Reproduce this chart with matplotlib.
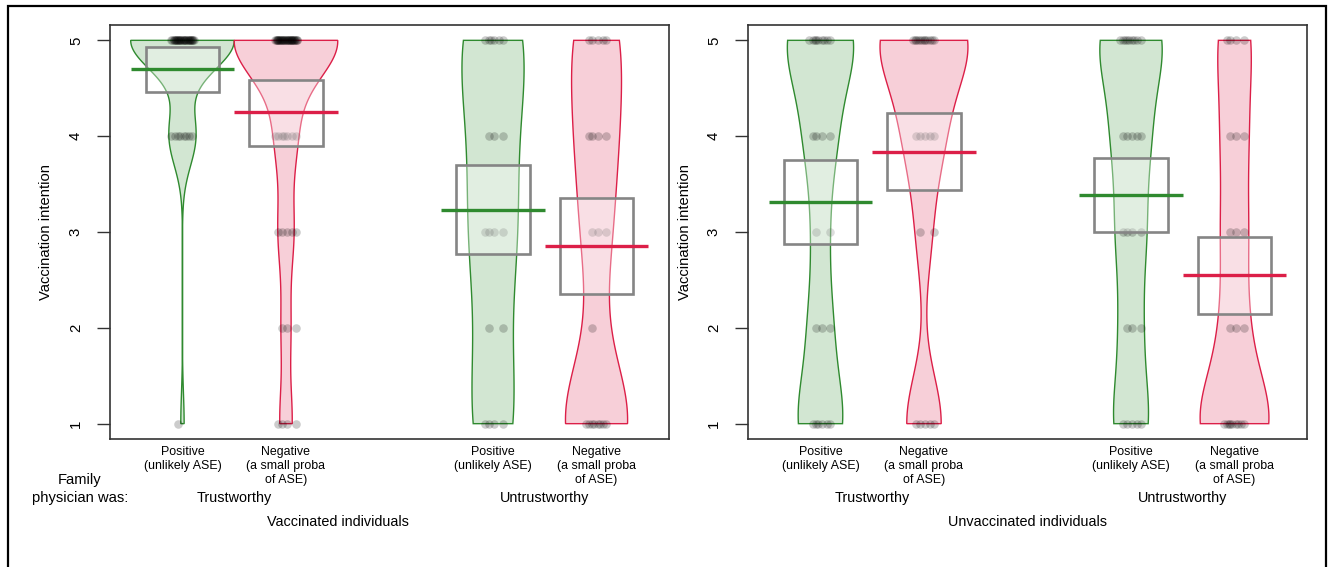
import matplotlib

matplotlib.use("Agg")
import matplotlib.pyplot as plt
import numpy as np
from matplotlib.patches import Rectangle
from matplotlib.transforms import blended_transform_factory

plt.rcParams["font.family"] = ["Liberation Sans", "DejaVu Sans"]

# ---------------------------------------------------------------------------
# Data
# ---------------------------------------------------------------------------
LEVELS = [1, 2, 3, 4, 5]
CONDITIONS = ["Positive\n(unlikely ASE)", "Negative\n(a small proba\nof ASE)"]
PHYSICIAN = ["Trustworthy", "Untrustworthy"]
PANELS = ["Vaccinated individuals", "Unvaccinated individuals"]

# counts of answers 1..5, order: trust+/trust-/untrust+/untrust-
vacc_counts = [[1, 0, 0, 8, 31], [4, 3, 5, 7, 34], [4, 2, 4, 3, 6], [8, 1, 3, 4, 5]]
unvacc_counts = [[6, 3, 2, 4, 9], [5, 0, 2, 5, 12], [5, 3, 4, 5, 9], [9, 3, 3, 3, 4]]

vacc_means = [4.70, 4.25, 3.23, 2.85]
vacc_lo = [4.46, 3.90, 2.77, 2.35]
vacc_hi = [4.93, 4.59, 3.70, 3.35]

unvacc_means = [3.31, 3.84, 3.39, 2.55]
unvacc_lo = [2.88, 3.44, 3.00, 2.14]
unvacc_hi = [3.75, 4.24, 3.77, 2.95]

# kde smoothing per bean
vacc_bw = [0.31, 0.40, 0.70, 0.62]
unvacc_bw = [0.50, 0.50, 0.50, 0.52]

GREEN = "#2f8a2f"
RED = "#dc1f48"
BEAN_COLORS = [GREEN, RED, GREEN, RED]


def bean_outline(counts, bw, wmin=0.3, wmax=0.5):
    vals = np.repeat(LEVELS, counts).astype(float)
    grid = np.linspace(vals.min(), vals.max(), 400)
    dens = np.exp(-0.5 * ((grid[:, None] - vals[None, :]) / bw) ** 2).sum(axis=1)
    dens = dens / (len(vals) * bw * np.sqrt(2 * np.pi))
    peak = np.clip(dens.max(), wmin, wmax)
    return grid, dens / dens.max() * peak


def jitter(n, width=0.11):
    k = np.arange(n)
    return ((k * 0.6180339887 + 0.31) % 1.0 * 2 - 1) * width


def draw_panel(ax, counts, means, lo, hi, bws):
    positions = [i + i // 2 + 1 for i in range(len(counts))]
    for i, x in enumerate(positions):
        col = BEAN_COLORS[i]
        y, hw = bean_outline(counts[i], bws[i])
        xs = np.concatenate([x - hw, (x + hw)[::-1]])
        ys = np.concatenate([y, y[::-1]])
        ax.fill(xs, ys, facecolor=col, alpha=0.21, edgecolor="none", zorder=1)
        ax.fill(xs, ys, facecolor="none", edgecolor=col, lw=1.0, zorder=2)

        px, py = [], []
        for lev, c in zip(LEVELS, counts[i]):
            px.extend(x + jitter(c))
            py.extend([lev] * c)
        ax.scatter(px, py, s=38, color="black", alpha=0.2, linewidths=0, zorder=3)

        ax.add_patch(
            Rectangle(
                (x - 0.355, lo[i]), 0.71, hi[i] - lo[i],
                facecolor="white", alpha=0.35, edgecolor="none", zorder=4,
            )
        )
        ax.add_patch(
            Rectangle(
                (x - 0.355, lo[i]), 0.71, hi[i] - lo[i],
                facecolor="none", edgecolor="#858585", lw=1.9, zorder=5,
            )
        )
        ax.plot([x - 0.5, x + 0.5], [means[i], means[i]], color=col, lw=2.4,
                solid_capstyle="butt", zorder=6)

    ax.set_xlim(0.3, 5.7)
    ax.set_ylim(0.84, 5.16)
    ax.set_yticks(LEVELS)
    ax.set_yticklabels([str(v) for v in LEVELS], rotation=90, va="center")
    ax.tick_params(axis="y", length=9.5, width=1.0, pad=10, labelsize=10.8,
                   color="#333333")
    ax.set_xticks(positions)
    ax.set_xticklabels(CONDITIONS * 2, fontsize=8.9, linespacing=1.25, va="top")
    ax.tick_params(axis="x", length=0, pad=5)
    for s in ax.spines.values():
        s.set_color("#333333")
        s.set_linewidth(1.2)

    tr = blended_transform_factory(ax.transData, fig.transFigure)
    for j, lab in enumerate(PHYSICIAN):
        xc = (positions[2 * j] + positions[2 * j + 1]) / 2
        ax.text(xc, 1 - 498 / 567, lab, transform=tr, ha="center", va="center",
                fontsize=10.4)


fig = plt.figure(figsize=(13.3, 5.67), dpi=100)
ax1 = fig.add_axes([110 / 1330, 1 - 439 / 567, 559 / 1330, 414 / 567])
ax2 = fig.add_axes([748 / 1330, 1 - 439 / 567, 559 / 1330, 414 / 567])

draw_panel(ax1, vacc_counts, vacc_means, vacc_lo, vacc_hi, vacc_bw)
draw_panel(ax2, unvacc_counts, unvacc_means, unvacc_lo, unvacc_hi, unvacc_bw)

for xl in [46, 685]:
    fig.text(xl / 1330, 1 - 232 / 567, "Vaccination intention", rotation=90,
             ha="center", va="center", fontsize=10.6)

fig.text(80 / 1330, 1 - 480 / 567, "Family", ha="center", va="center", fontsize=10.6)
fig.text(80 / 1330, 1 - 498 / 567, "physician was:", ha="center", va="center",
         fontsize=10.6)
fig.text(338 / 1330, 1 - 522 / 567, PANELS[0], ha="center", va="center", fontsize=10.4)
fig.text(1027 / 1330, 1 - 522 / 567, PANELS[1], ha="center", va="center", fontsize=10.4)

fig.patches.append(
    Rectangle((8 / 1330, -0.05), 1318 / 1330, 1.05 - 6 / 567, transform=fig.transFigure,
              fill=False, edgecolor="black", lw=1.6, figure=fig)
)

fig.savefig("out.png", dpi=100)
